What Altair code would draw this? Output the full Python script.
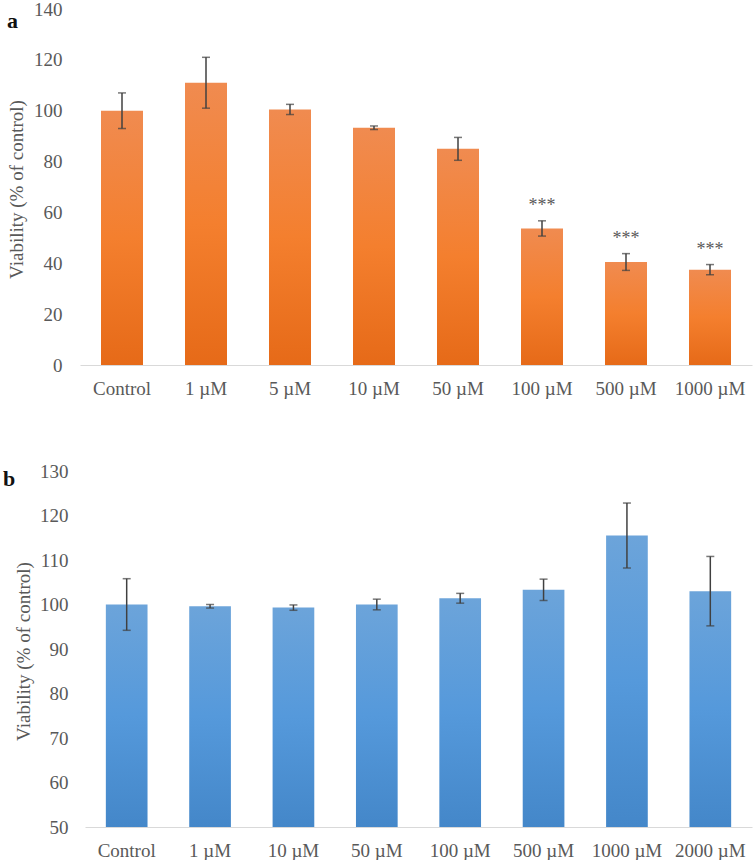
import altair as alt
import pandas as pd

# ---- data ----
top_cats = ["Control", "1 µM", "5 µM", "10 µM", "50 µM", "100 µM", "500 µM", "1000 µM"]
top_vals = [100, 111, 100.5, 93.3, 85, 53.7, 40.5, 37.5]
top_err = [7, 10, 2, 0.7, 4.5, 3, 3.3, 2]
top_sig = ["", "", "", "", "", "***", "***", "***"]

bot_cats = ["Control", "1 µM", "10 µM", "50 µM", "100 µM", "500 µM", "1000 µM", "2000 µM"]
bot_vals = [100, 99.6, 99.3, 100, 101.4, 103.3, 115.5, 103]
bot_err = [5.8, 0.4, 0.6, 1.2, 1.1, 2.4, 7.3, 7.8]

top_ticks = [0, 20, 40, 60, 80, 100, 120, 140]
bot_ticks = [50, 60, 70, 80, 90, 100, 110, 120, 130]

FONT = "Liberation Serif"
TXT = "#595959"

df_top = pd.DataFrame({"cat": top_cats, "val": top_vals, "err": top_err, "sig": top_sig})
df_bot = pd.DataFrame({"cat": bot_cats, "val": bot_vals, "err": bot_err})


def grad(c0, c1, c2):
    return alt.Gradient(
        gradient="linear",
        stops=[alt.GradientStop(offset=0, color=c0),
               alt.GradientStop(offset=0.5, color=c1),
               alt.GradientStop(offset=1, color=c2)],
        x1=1, x2=1, y1=0, y2=1,
    )


def panel(df, cats, domain, ticks, colors, letter, letter_x, letter_y, title_x, lab_pad, xrange, base):
    xenc = alt.X("cat:N", sort=cats, title=None,
                 scale=alt.Scale(paddingInner=0.5, paddingOuter=0.25, range=xrange),
                 axis=alt.Axis(labelAngle=0, ticks=False, tickSize=0, domainColor="#D9D9D9",
                               domainWidth=1.2, labelFont=FONT, labelFontSize=19,
                               labelColor=TXT, labelPadding=23, labelBaseline="middle"))
    yscale = alt.Scale(domain=domain, nice=False, zero=False)
    yenc = alt.Y("val:Q", scale=yscale,
                 axis=alt.Axis(values=ticks, grid=False, domain=False, ticks=False, tickSize=0,
                               labelFont=FONT, labelFontSize=19, labelColor=TXT,
                               labelPadding=lab_pad, title="Viability (% of control)",
                               titleFont=FONT, titleFontSize=19, titleColor=TXT,
                               titleFontWeight="normal", titleX=title_x, titleY=180,
                               titleAngle=-90, titleAlign="center", titleBaseline="middle"))
    base_ch = alt.Chart(df).transform_calculate(lo="datum.val - datum.err", hi="datum.val + datum.err")
    bars = base_ch.mark_bar(color=grad(*colors)).encode(x=xenc, y=yenc, y2=alt.datum(base))
    rule = base_ch.mark_rule(color="#404040", strokeWidth=1.5).encode(
        x=alt.X("cat:N", sort=cats), y=alt.Y("lo:Q", scale=yscale), y2="hi:Q")
    cap_lo = base_ch.mark_tick(color="#404040", thickness=1.5, size=8).encode(
        x=alt.X("cat:N", sort=cats), y=alt.Y("lo:Q", scale=yscale))
    cap_hi = base_ch.mark_tick(color="#404040", thickness=1.5, size=8).encode(
        x=alt.X("cat:N", sort=cats), y=alt.Y("hi:Q", scale=yscale))
    lab = alt.Chart(pd.DataFrame({"t": [letter]})).mark_text(
        font=FONT, fontSize=22, fontWeight="bold", color="#111111", align="left",
        baseline="alphabetic").encode(x=alt.value(letter_x), y=alt.value(letter_y), text="t:N")
    layers = [bars, rule, cap_lo, cap_hi]
    if "sig" in df.columns:
        stars = base_ch.mark_text(font=FONT, fontSize=18, color=TXT, baseline="alphabetic",
                                  dy=-10).encode(x=alt.X("cat:N", sort=cats),
                                                 y=alt.Y("hi:Q", scale=yscale), text="sig:N")
        layers.append(stars)
    layers.append(lab)
    return alt.layer(*layers).properties(view=alt.ViewBackground(stroke="transparent", strokeWidth=0))


top = panel(df_top, top_cats, [0, 140], top_ticks, ("#F08B50", "#F47F2E", "#E66A18"),
            "a", -73, 18.7, -64, 18, [0, 672], 0).properties(width=672, height=356)
bot = panel(df_bot, bot_cats, [50, 130], bot_ticks, ("#6CA4DA", "#5599DB", "#4487C9"),
            "b", -77, 15, -57, 12, [5, 672], 50).properties(width=672, height=356)

chart = alt.vconcat(top, bot, spacing=64).properties(
    padding={"left": 3, "top": 0, "right": 2, "bottom": 0}
).configure_view(stroke="transparent", strokeWidth=0).configure(background="white")

chart.save("out.html", embed_options={"renderer": "svg", "actions": False})
